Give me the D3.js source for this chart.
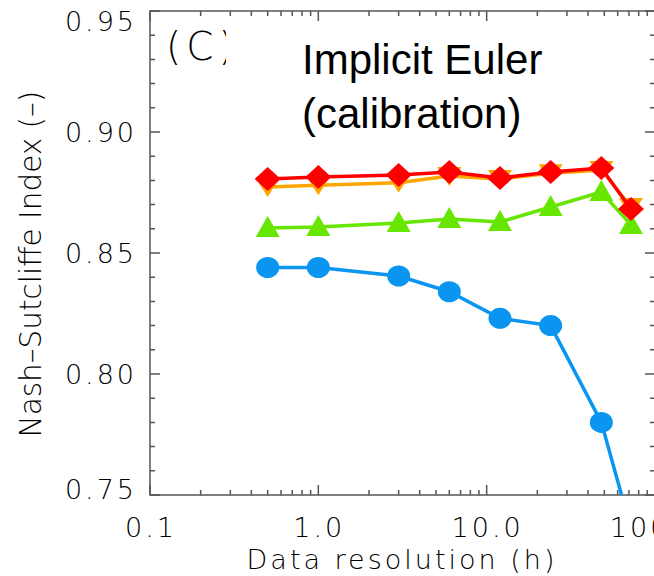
<!DOCTYPE html>
<html>
<head>
<meta charset="utf-8">
<script src="https://cdn.jsdelivr.net/npm/d3@7"></script>
<style>
  body { margin: 0; background: #fff; }
  svg { display: block; }
  .thin { font-family: "DejaVu Sans", sans-serif; font-weight: 200; fill: #000; }
</style>
</head>
<body>
<svg width="654" height="576"></svg>
<script>
// data resolution (h)
var resolution = [0.5, 1, 3, 6, 12, 24, 48, 72];
// Nash-Sutcliffe index per series
var nseBlue   = [0.844, 0.844, 0.8405, 0.834, 0.823, 0.820, 0.780, 0.736];
var nseGreen  = [0.8603, 0.8607, 0.8624, 0.864, 0.8628, 0.869, 0.8752, 0.8616];
var nseOrange = [0.8773, 0.878, 0.879, 0.8818, 0.8806, 0.883, 0.8843, 0.869];
var nseRed    = [0.8806, 0.8814, 0.8822, 0.8835, 0.881, 0.8835, 0.8851, 0.8682];
var xTicks = [0.1, 1, 10, 100];
var xTickLabels = ["0.1", "1.0", "10.0", "100.0"];
var yTicks = [0.75, 0.80, 0.85, 0.90, 0.95];

var svg = d3.select("svg");
var pLeft = 150, pRight = 655, pTop = 11, pBottom = 495;

var x = d3.scaleLog().domain([0.1, 100]).range([pLeft, pRight]);
var y = d3.scaleLinear().domain([0.75, 0.95]).range([pBottom, pTop]);

svg.append("defs").append("clipPath").attr("id", "plot")
    .append("rect")
    .attr("x", pLeft).attr("y", pTop)
    .attr("width", pRight - pLeft).attr("height", pBottom - pTop);

// minor tick positions
var xMinor = [];
[0.1, 1, 10].forEach(function(d) {
    for (var k = 2; k <= 9; k++) xMinor.push(d * k);
});
var yMinor = d3.range(0.76, 0.95, 0.01).filter(function(v) {
    return Math.abs(Math.round(v * 20) - v * 20) > 0.01;
});

var ax = svg.append("g").attr("stroke", "#555").attr("stroke-width", 1.5).attr("fill", "none");

ax.append("rect")
    .attr("x", pLeft).attr("y", pTop)
    .attr("width", pRight - pLeft).attr("height", pBottom - pTop);

// x ticks, bottom and top
ax.selectAll(".xmaj").data(xTicks).enter().append("path")
    .attr("d", function(d) {
        return "M" + x(d) + "," + pBottom + "v-10M" + x(d) + "," + pTop + "v10";
    });
ax.selectAll(".xmin").data(xMinor).enter().append("path")
    .attr("d", function(d) {
        return "M" + x(d) + "," + pBottom + "v-5M" + x(d) + "," + pTop + "v5";
    });
// y ticks, left and right
ax.selectAll(".ymaj").data(yTicks).enter().append("path")
    .attr("d", function(d) {
        return "M" + pLeft + "," + y(d) + "h10M" + pRight + "," + y(d) + "h-10";
    });
ax.selectAll(".ymin").data(yMinor).enter().append("path")
    .attr("d", function(d) {
        return "M" + pLeft + "," + y(d) + "h5M" + pRight + "," + y(d) + "h-5";
    });

// tick labels
svg.selectAll(".ylab").data(yTicks).enter().append("text")
    .attr("class", "thin")
    .attr("x", 137)
    .attr("y", function(d) { return Math.min(Math.max(y(d), pTop + 10), pBottom - 6); })
    .attr("dy", "0.36em")
    .attr("text-anchor", "end")
    .attr("font-size", 27)
    .attr("letter-spacing", 3)
    .text(function(d) { return d3.format(".2f")(d); });

svg.selectAll(".xlab").data(xTicks).enter().append("text")
    .attr("class", "thin")
    .attr("x", function(d) { return x(d) + 1; })
    .attr("y", 537)
    .attr("text-anchor", "middle")
    .attr("font-size", 27)
    .attr("letter-spacing", 3)
    .text(function(d, i) { return xTickLabels[i]; });

svg.append("text").attr("class", "thin")
    .attr("x", 402).attr("y", 569)
    .attr("text-anchor", "middle")
    .attr("font-size", 27)
    .attr("letter-spacing", 3)
    .text("Data resolution (h)");

svg.append("text").attr("class", "thin")
    .attr("transform", "translate(41,264) rotate(-90)")
    .attr("text-anchor", "middle")
    .attr("font-size", 29.5)
    .text("Nash\u2013Sutcliffe Index (\u2013)");

// panel letter and title box
svg.append("text").attr("class", "thin")
    .attr("x", 166).attr("y", 60)
    .attr("font-size", 39)
    .attr("letter-spacing", 5)
    .text("(C)");
svg.append("rect")
    .attr("x", 226).attr("y", 28)
    .attr("width", 330).attr("height", 116)
    .attr("fill", "#fff");
svg.append("text")
    .attr("x", 302).attr("y", 74)
    .attr("font-family", "Liberation Sans, Arial, sans-serif")
    .attr("font-size", 42)
    .text("Implicit Euler");
svg.append("text")
    .attr("x", 302).attr("y", 128)
    .attr("font-family", "Liberation Sans, Arial, sans-serif")
    .attr("font-size", 42)
    .text("(calibration)");

// series
var plot = svg.append("g").attr("clip-path", "url(#plot)");
var line = d3.line()
    .x(function(d) { return x(d[0]); })
    .y(function(d) { return y(d[1]); });

function series(vals, color, shape) {
    var pts = resolution.map(function(r, i) { return [r, vals[i]]; });
    plot.append("path")
        .attr("d", line(pts))
        .attr("fill", "none")
        .attr("stroke", color)
        .attr("stroke-width", 3.5);
    plot.selectAll(null).data(pts).enter().append("path")
        .attr("transform", function(d) { return "translate(" + x(d[0]) + "," + y(d[1]) + ")"; })
        .attr("d", shape)
        .attr("fill", color);
}

var circle = "M-11.5,0A11.5,10.5 0 1,0 11.5,0A11.5,10.5 0 1,0 -11.5,0Z";
var triUp = "M0,-12L12,9L-12,9Z";
var triDown = "M0,10L-12,-9L12,-9Z";
var diamond = "M0,-12L13,0L0,12L-13,0Z";

series(nseBlue, "#0a96f0", circle);
series(nseGreen, "#66e600", triUp);
series(nseOrange, "#ffa500", triDown);
series(nseRed, "#ff0000", diamond);
</script>
</body>
</html>
